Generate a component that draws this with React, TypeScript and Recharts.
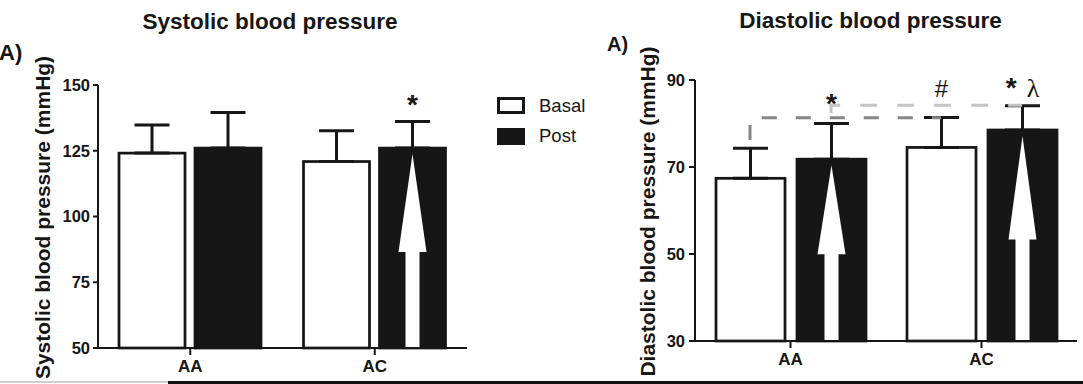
import React from "react";
import { Bar, ComposedChart, ErrorBar, Legend, Line, XAxis, YAxis } from "recharts";

const FONT = '"Liberation Sans", Arial, Helvetica, sans-serif';
const SERIF = '"Liberation Serif", "Times New Roman", serif';
const INK = "#161616";

const groups = ["AA", "AC"];

// systolic (mmHg)
const systolicBasal = [124.1, 120.9];
const systolicBasalSd = [10.7, 11.7];
const systolicPost = [126.0, 126.0];
const systolicPostSd = [13.5, 10.1];
const systolicPostMarks = ["", "*"];
const systolicPostMarkAt = [0, 139.0];
const systolicPostArrows = [false, true];
const systolicTicks = [50, 75, 100, 125, 150];

// diastolic (mmHg)
const diastolicBasal = [67.4, 74.5];
const diastolicBasalSd = [6.9, 6.9];
const diastolicPost = [71.8, 78.5];
const diastolicPostSd = [8.2, 5.6];
const diastolicBasalMarks = ["", "#"];
const diastolicBasalMarkAt = [0, 86.2];
const diastolicPostMarks = ["*", "* λ"];
const diastolicPostMarkAt = [82.4, 86.1];
const diastolicPostArrows = [true, true];
const diastolicBasalLink = [76.2, 81.3];
const diastolicPostLink = [82.4, 84.2];
const diastolicTicks = [30, 50, 70, 90];

const systolicRows = groups.map((group, i) => ({
  group,
  basal: systolicBasal[i],
  basalErr: [0, systolicBasalSd[i]],
  post: systolicPost[i],
  postErr: [0, systolicPostSd[i]],
  postMark: systolicPostMarks[i],
  postMarkAt: systolicPostMarkAt[i],
  postArrow: systolicPostArrows[i],
}));

const diastolicRows = groups.map((group, i) => ({
  group,
  basal: diastolicBasal[i],
  basalErr: [0, diastolicBasalSd[i]],
  basalMark: diastolicBasalMarks[i],
  basalMarkAt: diastolicBasalMarkAt[i],
  post: diastolicPost[i],
  postErr: [0, diastolicPostSd[i]],
  postMark: diastolicPostMarks[i],
  postMarkAt: diastolicPostMarkAt[i],
  postArrow: diastolicPostArrows[i],
  basalLink: diastolicBasalLink[i],
  postLink: diastolicPostLink[i],
}));

const LEFT_BAR = 66;
const LEFT_GAP = 10;
const RIGHT_BAR = 69;
const RIGHT_GAP = 12;
const linkShift = (RIGHT_BAR + RIGHT_GAP) / 2;

function glyphStyle(t: string) {
  if (t === "λ") return { fontFamily: SERIF, fontSize: 26, fontWeight: 400 };
  if (t === "#") return { fontFamily: FONT, fontSize: 24, fontWeight: 400 };
  return { fontFamily: FONT, fontSize: 28, fontWeight: 700 };
}

function barShape(series: "basal" | "post", min: number) {
  return (props: any) => {
    const { x, y, width, height, payload } = props;
    const filled = series === "post";
    const value = payload[series];
    const ppu = height / (value - min);
    const cx = x + width / 2;
    const bottom = y + height;
    const mark: string = payload[series + "Mark"] ?? "";
    const markAt: number = payload[series + "MarkAt"];
    let arrow = null;
    if (payload[series + "Arrow"]) {
      const tip = y + 6;
      const base = tip + height * 0.49;
      const pts = [
        [cx, tip],
        [cx + 14, base],
        [cx + 7, base],
        [cx + 7, bottom - 1],
        [cx - 7, bottom - 1],
        [cx - 7, base],
        [cx - 14, base],
      ];
      arrow = <polygon points={pts.map((p) => p.join(",")).join(" ")} fill="#fff" />;
    }
    return (
      <g>
        <rect
          x={x}
          y={y}
          width={width}
          height={height}
          fill={filled ? INK : "#fff"}
          stroke={INK}
          strokeWidth={2.75}
        />
        {arrow}
        {mark && (
          <text x={cx} y={y - (markAt - value) * ppu} textAnchor="middle" fill={INK}>
            {mark.split(" ").map((t, i) => (
              <tspan key={i} dx={i ? 10 : 0} {...glyphStyle(t)}>
                {t}
              </tspan>
            ))}
          </text>
        )}
      </g>
    );
  };
}

function axisTitle(text: string, dx: number) {
  return (props: any) => {
    const vb = props.viewBox ?? { x: 0, y: 0, width: 0, height: 0 };
    const cx = vb.x + dx;
    const cy = vb.y + vb.height / 2 + 1;
    return (
      <text
        x={cx}
        y={cy}
        transform={`rotate(-90 ${cx} ${cy})`}
        textAnchor="middle"
        fontFamily={FONT}
        fontWeight={700}
        fontSize={21}
        fill={INK}
      >
        {text}
      </text>
    );
  };
}

function SwatchLegend(props: any) {
  const items = props.payload ?? [];
  return (
    <div style={{ fontFamily: FONT, fontSize: 18.5, color: INK }}>
      {items.map((it: any) => (
        <div key={it.value} style={{ display: "flex", alignItems: "center", height: 30.7 }}>
          <span
            style={{
              display: "inline-block",
              width: 28,
              height: 17,
              boxSizing: "border-box",
              border: `3px solid ${INK}`,
              background: it.color,
              marginRight: 14,
            }}
          />
          <span style={{ lineHeight: 1 }}>{it.value}</span>
        </div>
      ))}
    </div>
  );
}

const axisStroke = { stroke: INK, strokeWidth: 2 };
const yTick = { fill: INK, fontSize: 16.5, fontWeight: 700, fontFamily: FONT };
const xTick = { fill: INK, fontSize: 17, fontWeight: 700, fontFamily: FONT };

export default function App() {
  return (
    <div
      style={{
        position: "absolute",
        left: 0,
        top: 0,
        width: 1083,
        height: 384,
        background: "#fff",
        overflow: "hidden",
        fontFamily: FONT,
      }}
    >
      <style>{`.shift-left{transform:translate(${-linkShift}px,0)}.shift-right{transform:translate(${linkShift}px,0)}`}</style>

      <div style={{ position: "absolute", left: 0, top: 0 }}>
        <ComposedChart
          width={600}
          height={384}
          data={systolicRows}
          margin={{ top: 85, right: 133, bottom: 6, left: 0 }}
          barGap={LEFT_GAP}
          barSize={LEFT_BAR}
        >
          <XAxis
            dataKey="group"
            height={30}
            interval={0}
            tickSize={7}
            tickMargin={5}
            axisLine={axisStroke}
            tickLine={axisStroke}
            tick={xTick}
          />
          <YAxis
            domain={[50, 150]}
            ticks={systolicTicks}
            interval={0}
            width={98}
            tickSize={5}
            tickMargin={3}
            axisLine={axisStroke}
            tickLine={axisStroke}
            tick={yTick}
            label={axisTitle("Systolic blood pressure (mmHg)", 50)}
          />
          <Bar dataKey="basal" name="Basal" fill="#fff" shape={barShape("basal", 50)} isAnimationActive={false}>
            <ErrorBar dataKey="basalErr" width={17.5} stroke={INK} strokeWidth={3} isAnimationActive={false} />
          </Bar>
          <Bar dataKey="post" name="Post" fill={INK} shape={barShape("post", 50)} isAnimationActive={false}>
            <ErrorBar dataKey="postErr" width={17.5} stroke={INK} strokeWidth={3} isAnimationActive={false} />
          </Bar>
          <Legend
            layout="vertical"
            align="center"
            verticalAlign="middle"
            wrapperStyle={{ left: 497, top: 90.5, width: 120 }}
            content={SwatchLegend}
          />
        </ComposedChart>
      </div>

      <div style={{ position: "absolute", left: 540, top: 0 }}>
        <ComposedChart
          width={543}
          height={384}
          data={diastolicRows}
          margin={{ top: 80, right: 6, bottom: 13, left: 0 }}
          barGap={RIGHT_GAP}
          barSize={RIGHT_BAR}
        >
          <XAxis
            dataKey="group"
            height={30}
            interval={0}
            tickSize={7}
            tickMargin={5}
            axisLine={axisStroke}
            tickLine={axisStroke}
            tick={xTick}
          />
          <YAxis
            domain={[30, 90]}
            ticks={diastolicTicks}
            interval={0}
            width={155}
            tickSize={6}
            tickMargin={4}
            axisLine={axisStroke}
            tickLine={axisStroke}
            tick={yTick}
            label={axisTitle("Diastolic blood pressure (mmHg)", 115)}
          />
          <Bar dataKey="basal" name="Basal" fill="#fff" shape={barShape("basal", 30)} isAnimationActive={false}>
            <ErrorBar dataKey="basalErr" width={17.5} stroke={INK} strokeWidth={3} isAnimationActive={false} />
          </Bar>
          <Bar dataKey="post" name="Post" fill={INK} shape={barShape("post", 30)} isAnimationActive={false}>
            <ErrorBar dataKey="postErr" width={17.5} stroke={INK} strokeWidth={3} isAnimationActive={false} />
          </Bar>
          <Line
            dataKey="basalLink"
            type="stepBefore"
            stroke="#858585"
            strokeWidth={3}
            strokeDasharray="15 19"
            dot={false}
            activeDot={false}
            legendType="none"
            className="shift-left"
            isAnimationActive={false}
          />
          <Line
            dataKey="postLink"
            type="stepBefore"
            stroke="#c4c4c4"
            strokeWidth={3}
            strokeDasharray="17 20"
            dot={false}
            activeDot={false}
            legendType="none"
            className="shift-right"
            isAnimationActive={false}
          />
        </ComposedChart>
      </div>

      <svg
        width={1083}
        height={384}
        style={{ position: "absolute", left: 0, top: 0, pointerEvents: "none" }}
      >
        <text x={270} y={28.5} textAnchor="middle" fontFamily={FONT} fontWeight={700} fontSize={22.5} fill={INK}>
          Systolic blood pressure
        </text>
        <text x={870.5} y={27.5} textAnchor="middle" fontFamily={FONT} fontWeight={700} fontSize={22.5} fill={INK}>
          Diastolic blood pressure
        </text>
        <text x={-1} y={60} fontFamily={FONT} fontWeight={700} fontSize={22} fill={INK}>
          A)
        </text>
        <text x={607} y={51} fontFamily={FONT} fontWeight={700} fontSize={20} fill={INK}>
          A)
        </text>
      </svg>

      <div style={{ position: "absolute", left: 0, top: 381, width: 168, height: 1.5, background: "#cfcfcf" }} />
      <div style={{ position: "absolute", left: 168, top: 381, width: 915, height: 3, background: "#111" }} />
    </div>
  );
}
